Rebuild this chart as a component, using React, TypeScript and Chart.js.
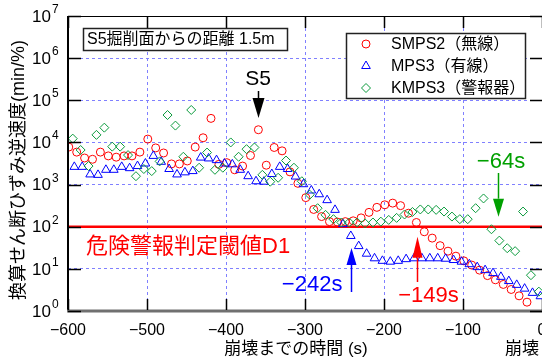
import React, { useEffect, useRef } from "react";
import { Chart, registerables } from "chart.js";
Chart.register(...registerables);

const FONT = '"Liberation Sans", "Noto Sans CJK JP", Arial, sans-serif';

const redTimes = [-599,-589,-579,-569,-559,-549,-539,-529,-519,-509,-499,-489,-479,-469,-459,-449,-439,-429,-419,-409,-399,-389,-379,-369,-359,-349,-339,-329,-319,-309,-299,-289,-279,-269,-259,-249,-239,-229,-219,-209,-199,-189,-179,-169,-159,-149,-139,-129,-119,-109,-99,-89,-79,-69,-59,-49,-39,-29,-19];
const redValues = [7760,5890,4270,3980,5890,4790,4470,4790,4790,5890,12000,7410,5620,3090,3090,3630,7760,12900,37200,3020,3310,2240,2750,4900,20000,2880,7590,6310,2000,1070,490,257,174,132,129,132,138,162,219,288,331,363,316,209,126,75.9,53.7,35.5,26.3,20.0,15.5,12.3,9.33,6.92,5.50,4.27,3.24,2.29,1.62];

const blueTimes = [-592,-582,-572,-562,-552,-542,-532,-522,-512,-502,-492,-482,-472,-462,-452,-442,-432,-422,-412,-402,-392,-382,-372,-362,-352,-342,-332,-322,-312,-302,-292,-282,-272,-262,-252,-242,-232,-222,-212,-202,-192,-182,-172,-162,-152,-142,-132,-122,-112,-102,-92,-82,-72,-62,-52,-42,-32,-22,-12,-2];
const blueValues = [2630,2630,1740,1700,2240,2240,2630,2450,2750,3160,4790,3470,2340,1740,1950,2090,4370,4170,3800,3160,3020,2240,1580,1200,1170,1780,2630,2340,1550,1020,724,589,427,251,115,60.3,34.7,22.9,17.8,15.5,14.8,15.5,17.0,17.8,17.8,17.8,17.8,17.4,16.2,14.8,12.9,11.0,9.33,7.94,6.46,5.13,4.17,3.39,2.69,2.24];

const greenTimes = [-594,-584,-574,-564,-554,-544,-534,-524,-514,-504,-494,-484,-474,-464,-454,-444,-434,-424,-414,-404,-394,-384,-374,-364,-354,-344,-334,-324,-314,-304,-294,-284,-274,-264,-254,-244,-234,-224,-214,-204,-194,-184,-174,-164,-154,-144,-134,-124,-114,-104,-94,-84,-74,-64,-54,-44,-34,-24,-14,-4];
const greenValues = [12300,6610,2750,15100,22400,7940,7940,5010,1580,2340,2090,3550,44700,25100,4570,58900,2510,5750,2240,2510,10000,4570,6920,7590,1700,1170,1450,3720,2510,1200,575,275,191,151,126,126,126,120,126,132,145,162,195,224,257,257,251,229,174,151,151,275,468,87.1,46.8,30.9,26.3,229,7.08,2.88];

const xTicks = [-600, -500, -400, -300, -200, -100, 0];
const yTicks = [1, 10, 100, 1e3, 1e4, 1e5, 1e6, 1e7];
const thresholdValue = 100;
const seriesNames = ["SMPS2（無線）", "MPS3（有線）", "KMPS3（警報器）"];

const RED = "#ff0000";
const BLUE = "#0000ff";
const GREEN = "#0a9a3c";
const GREEN_TXT = "#00a000";
const GRID = "#8080ff";

// annotations in data coordinates
const arrows = [
  { x: -359, yTail: 1.66e5, yTip: 3.8e4, head: 20, w: 12, color: "#000" },
  { x: -242, yTail: 2.82, yTip: 31.3, head: 17, w: 10, color: BLUE },
  { x: -158, yTail: 4.88, yTip: 58, head: 21, w: 10, color: RED },
  { x: -56, yTail: 1880, yTip: 173, head: 18, w: 11, color: GREEN_TXT },
];
const labels = [
  { text: "S5", x: -359.5, y: 3.12e5, size: 21, color: "#000", align: "center" },
  { text: "−242s", x: -291, y: 4.14, size: 22, color: BLUE, align: "center" },
  { text: "−149s", x: -143.7, y: 2.27, size: 22, color: RED, align: "center" },
  { text: "−64s", x: -51.9, y: 3435, size: 22, color: GREEN_TXT, align: "center" },
  { text: "危険警報判定閾値D1", x: -577.2, y: 33, size: 22, color: RED, align: "left" },
];

function drawMarker(ctx: CanvasRenderingContext2D, style: string, x: number, y: number, r: number, color: string) {
  ctx.save();
  ctx.strokeStyle = color;
  ctx.lineWidth = 1;
  ctx.beginPath();
  if (style === "circle") {
    ctx.arc(x, y, r, 0, Math.PI * 2);
  } else if (style === "triangle") {
    ctx.moveTo(x, y - r);
    ctx.lineTo(x + r * 0.866, y + r * 0.5);
    ctx.lineTo(x - r * 0.866, y + r * 0.5);
    ctx.closePath();
  } else {
    ctx.moveTo(x - r, y);
    ctx.lineTo(x, y - r);
    ctx.lineTo(x + r, y);
    ctx.lineTo(x, y + r);
    ctx.closePath();
  }
  ctx.stroke();
  ctx.restore();
}

const decor = {
  id: "decor",
  afterDatasetsDraw(chart: any) {
    const { ctx, chartArea: a, scales } = chart;
    const xs = scales.x;
    const ys = scales.y;
    ctx.save();

    // frame
    ctx.strokeStyle = "#000";
    ctx.lineWidth = 1;
    ctx.beginPath();
    ctx.moveTo(a.left, a.top + 0.5);
    ctx.lineTo(a.right, a.top + 0.5);
    ctx.stroke();
    ctx.lineWidth = 2;
    ctx.beginPath();
    ctx.moveTo(a.left, a.top);
    ctx.lineTo(a.left, a.bottom);
    ctx.stroke();
    ctx.strokeStyle = "#707070";
    ctx.lineWidth = 3;
    ctx.beginPath();
    ctx.moveTo(a.left - 1, a.bottom);
    ctx.lineTo(a.right, a.bottom);
    ctx.stroke();

    // inward ticks
    ctx.strokeStyle = "#000";
    ctx.lineWidth = 1.5;
    xTicks.forEach((v) => {
      const px = Math.round(xs.getPixelForValue(v)) + 0.5;
      ctx.beginPath();
      ctx.moveTo(px, a.bottom - 1);
      ctx.lineTo(px, a.bottom - 12);
      ctx.moveTo(px, a.top);
      ctx.lineTo(px, a.top + 12);
      ctx.stroke();
    });
    yTicks.forEach((v) => {
      const py = Math.round(ys.getPixelForValue(v)) + 0.5;
      ctx.beginPath();
      ctx.moveTo(a.left, py);
      ctx.lineTo(a.left + 13, py);
      ctx.moveTo(a.right, py);
      ctx.lineTo(a.right - 12, py);
      ctx.stroke();
    });

    // y tick labels 10^n
    ctx.fillStyle = "#000";
    yTicks.forEach((v) => {
      const py = ys.getPixelForValue(v);
      const e = Math.round(Math.log10(v));
      ctx.font = `17px ${FONT}`;
      ctx.textAlign = "right";
      ctx.textBaseline = "middle";
      ctx.fillText("10", 51, py + 1);
      ctx.font = `12px ${FONT}`;
      ctx.textAlign = "left";
      ctx.textBaseline = "alphabetic";
      ctx.fillText(String(e), 52, py - 3);
    });

    // axis titles
    ctx.save();
    ctx.translate(19, 170);
    ctx.rotate(-Math.PI / 2);
    ctx.font = `18px ${FONT}`;
    ctx.textAlign = "center";
    ctx.textBaseline = "middle";
    ctx.fillText("換算せん断ひずみ逆速度(min/%)", 0, 0);
    ctx.restore();
    ctx.font = `17px ${FONT}`;
    ctx.textAlign = "center";
    ctx.textBaseline = "middle";
    ctx.fillText("崩壊までの時間 (s)", 296, 349);
    ctx.textAlign = "left";
    ctx.fillText("崩壊", 505, 349);

    // info box
    ctx.fillStyle = "#fff";
    ctx.fillRect(83, 28, 205, 23);
    ctx.strokeStyle = "#222";
    ctx.lineWidth = 1.5;
    ctx.strokeRect(83.5, 28.5, 204, 22);
    ctx.fillStyle = "#000";
    ctx.font = `16px ${FONT}`;
    ctx.textAlign = "left";
    ctx.textBaseline = "middle";
    ctx.fillText("S5掘削面からの距離 1.5m", 87, 40);

    // legend box
    ctx.fillStyle = "#fff";
    ctx.fillRect(346, 33, 180, 66);
    ctx.strokeStyle = "#222";
    ctx.lineWidth = 1.5;
    ctx.strokeRect(346.5, 33.5, 179, 65);
    const legendStyles = [
      ["circle", RED, 4],
      ["triangle", BLUE, 5],
      ["rectRot", GREEN, 4.5],
    ] as const;
    seriesNames.forEach((name, i) => {
      const cy = 44 + i * 22;
      drawMarker(ctx, legendStyles[i][0], 366, cy, legendStyles[i][2], legendStyles[i][1]);
      ctx.fillStyle = "#000";
      ctx.font = `16px ${FONT}`;
      ctx.textAlign = "left";
      ctx.textBaseline = "middle";
      ctx.fillText(name, 391, cy + 1);
    });

    // arrows
    arrows.forEach((ar) => {
      const px = Math.round(xs.getPixelForValue(ar.x)) + 0.5;
      const pt = ys.getPixelForValue(ar.yTail);
      const pp = ys.getPixelForValue(ar.yTip);
      const dir = pp > pt ? 1 : -1;
      const base = pp - dir * ar.head;
      ctx.strokeStyle = ar.color;
      ctx.fillStyle = ar.color;
      ctx.lineWidth = 1.5;
      ctx.beginPath();
      ctx.moveTo(px, pt);
      ctx.lineTo(px, base);
      ctx.stroke();
      ctx.beginPath();
      ctx.moveTo(px, pp);
      ctx.lineTo(px - ar.w / 2, base);
      ctx.lineTo(px + ar.w / 2, base);
      ctx.closePath();
      ctx.fill();
    });

    // labels
    labels.forEach((lb) => {
      ctx.fillStyle = lb.color;
      ctx.font = `${lb.size}px ${FONT}`;
      ctx.textAlign = lb.align as CanvasTextAlign;
      ctx.textBaseline = "middle";
      ctx.fillText(lb.text, xs.getPixelForValue(lb.x), ys.getPixelForValue(lb.y));
    });

    ctx.restore();
  },
};

export default function App() {
  const ref = useRef<HTMLCanvasElement>(null);
  useEffect(() => {
    const toPts = (t: number[], v: number[]) => t.map((x, i) => ({ x, y: v[i] }));
    const chart = new Chart(ref.current!, {
      type: "scatter",
      data: {
        datasets: [
          {
            type: "line",
            data: [
              { x: xTicks[0], y: thresholdValue },
              { x: xTicks[xTicks.length - 1], y: thresholdValue },
            ],
            borderColor: RED,
            borderWidth: 2.5,
            pointRadius: 0,
            order: 4,
          } as any,
          {
            label: seriesNames[0],
            data: toPts(redTimes, redValues),
            pointStyle: "circle",
            pointRadius: 4,
            borderColor: RED,
            borderWidth: 1,
            backgroundColor: "rgba(0,0,0,0)",
            order: 3,
          },
          {
            label: seriesNames[1],
            data: toPts(blueTimes, blueValues),
            pointStyle: "triangle",
            pointRadius: 5,
            borderColor: BLUE,
            borderWidth: 1,
            backgroundColor: "rgba(0,0,0,0)",
            order: 2,
          },
          {
            label: seriesNames[2],
            data: toPts(greenTimes, greenValues),
            pointStyle: "rectRot",
            pointRadius: 4.5,
            borderColor: GREEN,
            borderWidth: 1,
            backgroundColor: "rgba(0,0,0,0)",
            order: 1,
          },
        ],
      },
      options: {
        responsive: false,
        animation: false,
        devicePixelRatio: 1,
        layout: { padding: { top: 16, right: 58, left: 0, bottom: 0 } },
        plugins: { legend: { display: false }, tooltip: { enabled: false } },
        scales: {
          x: {
            type: "linear",
            min: -600,
            max: 0,
            afterBuildTicks: (s: any) => {
              s.ticks = xTicks.map((v) => ({ value: v }));
            },
            afterFit: (s: any) => {
              s.height = 49;
            },
            ticks: {
              autoSkip: false,
              maxRotation: 0,
              padding: 10,
              color: "#000",
              font: { size: 16, family: FONT },
              callback: (v: any) => (Number(v) < 0 ? "−" + Math.abs(Number(v)) : String(v)),
            },
            grid: { color: GRID, lineWidth: 1, drawTicks: false },
            border: { display: false, dash: [3, 3] },
          },
          y: {
            type: "logarithmic",
            min: 1,
            max: 1e7,
            afterBuildTicks: (s: any) => {
              s.ticks = yTicks.map((v) => ({ value: v }));
            },
            afterFit: (s: any) => {
              s.width = 68;
            },
            ticks: { display: false },
            grid: { color: GRID, lineWidth: 1, drawTicks: false },
            border: { display: false, dash: [3, 3] },
          },
        },
      },
      plugins: [decor],
    });
    return () => chart.destroy();
  }, []);
  return (
    <div
      style={{
        position: "absolute",
        left: 0,
        top: 0,
        width: 542,
        height: 360,
        overflow: "hidden",
        background: "#fff",
      }}
    >
      <canvas ref={ref} width={600} height={360} style={{ display: "block" }} />
    </div>
  );
}
